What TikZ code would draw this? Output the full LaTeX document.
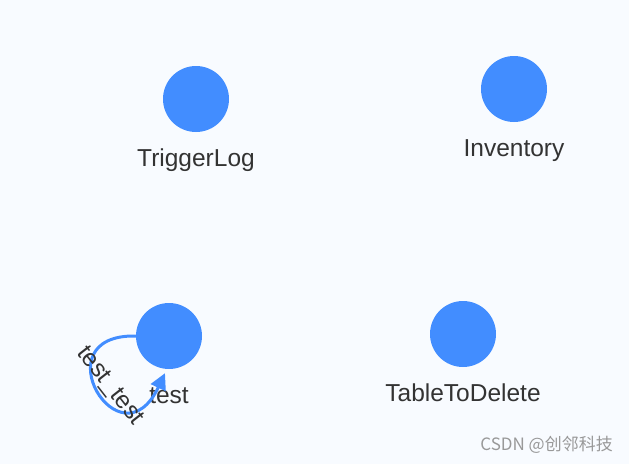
\documentclass[tikz,border=0pt]{standalone}
\usepackage{fontspec}
\setmainfont{Liberation Sans}
\newfontfamily\cjk{Noto Sans CJK SC}
\usetikzlibrary{positioning, arrows.meta}
\definecolor{bg}{HTML}{F8FBFF}
\definecolor{dot}{HTML}{428DFF}
\definecolor{txt}{HTML}{333333}
\definecolor{mark}{HTML}{999999}

\begin{document}
\begin{tikzpicture}[x=1pt, y=-1pt, font=\fontsize{24.5}{28}\selectfont, node distance=16.5pt,
  vertex/.style={circle, fill=dot, minimum size=66pt, inner sep=0pt},
  lbl/.style={text=txt, inner sep=0pt, text height=17.5pt, text depth=5.5pt},
  selfloop/.style={-{Triangle[length=16pt, width=16pt]}, dot, line width=3pt}
]
  \fill[bg] (0,0) rectangle (629,464);
  \useasboundingbox (0,0) rectangle (629,464);
  % tables
  \node[vertex] (trig) at (196,99) {};
  \node[vertex] (inv) at (514,89) {};
  \node[vertex] (test) at (169,336) {};
  \node[vertex] (drop) at (463,334) {};
  \node[lbl, below=of trig] (trig-txt) {TriggerLog};
  \node[lbl, below=of inv] (inv-txt) {Inventory};
  \node[lbl, below=of test] (test-txt) {test};
  \node[lbl, below=of drop] (drop-txt) {TableToDelete};
  % relation on itself
  \draw[selfloop] (test.west) .. controls +(-96,-2) and +(-45,95) .. ([xshift=-4pt, yshift=-4pt]test.south);
  \node[lbl, rotate=-52] (loop-txt) at (110,386) {test\_test};
  \node[text=mark, font=\cjk\fontsize{17}{20}\selectfont, anchor=east, inner sep=0pt] (csdn) at (613,445) {CSDN @创邻科技};
\end{tikzpicture}
\end{document}
